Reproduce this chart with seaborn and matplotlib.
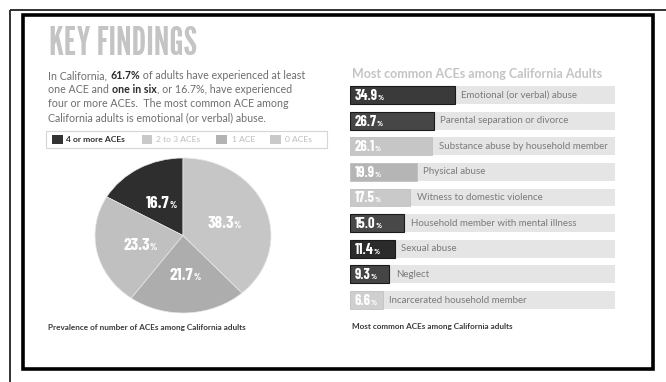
import numpy as np
import pandas as pd
import matplotlib
matplotlib.use("Agg")
import matplotlib.pyplot as plt
import seaborn as sns
from matplotlib import font_manager as fm
from matplotlib.patches import Rectangle

# ---------------- data ----------------
pie_labels = ["4 or more ACEs", "2 to 3 ACEs", "1 ACE", "0 ACEs"]
pie_values = [16.7, 23.3, 21.7, 38.3]
pie_colors = ["#2e2e2e", "#c0c0c0", "#adadad", "#c6c6c6"]
legend_colors = ["#333333", "#c9c9c9", "#b3b3b3", "#c9c9c9"]

ace_types = [
    "Emotional (or verbal) abuse",
    "Parental separation or divorce",
    "Substance abuse by household member",
    "Physical abuse",
    "Witness to domestic violence",
    "Household member with mental illness",
    "Sexual abuse",
    "Neglect",
    "Incarcerated household member",
]
ace_values = [34.9, 26.7, 26.1, 19.9, 17.5, 15.0, 11.4, 9.3, 6.6]
bar_colors = ["#3a3a3a", "#464646", "#c6c6c6", "#b5b5b5", "#c9c9c9",
              "#484848", "#2b2b2b", "#454545", "#cfcfcf"]
bar_dark = [True, True, False, False, False, True, True, True, False]

title_text = "KEY FINDINGS"
para_lines = [
    [("In California, ", "normal"), ("61.7%", "bold"), (" of adults have experienced at least", "normal")],
    [("one ACE and ", "normal"), ("one in six", "bold"), (", or 16.7%, have experienced", "normal")],
    [("four or more ACEs.  The most common ACE among", "normal")],
    [("California adults is emotional (or verbal) abuse.", "normal")],
]
bar_title = "Most common ACEs among California Adults"
pie_caption = "Prevalence of number of ACEs among California adults"
bar_caption = "Most common ACEs among California adults"

# ---------------- style ----------------
sns.set_theme(style="white")
names = {f.name for f in fm.fontManager.ttflist}


def pick(opts):
    for o in opts:
        if o in names:
            return o
    return "DejaVu Sans"


HEAD = pick(["League Gothic", "Oswald", "Bebas Neue", "Barlow Condensed"])
NUM = pick(["Barlow Condensed", "Asap Condensed", "Oswald"])
BODY = pick(["Lato", "Open Sans"])
plt.rcParams["font.family"] = [BODY, "DejaVu Sans"]

W, H = 666, 382
fig = plt.figure(figsize=(W / 100, H / 100), dpi=100)
fig.patch.set_facecolor("white")

ov = fig.add_axes([0, 0, 1, 1])
ov.set_xlim(0, W)
ov.set_ylim(H, 0)
ov.axis("off")
ov.set_zorder(10)
ov.patch.set_visible(False)

# frames
ov.plot([10, 10], [10, H], color="#222222", lw=1.3, solid_capstyle="butt")
ov.plot([10, W], [10, 10], color="#222222", lw=1.3, solid_capstyle="butt")
ov.add_patch(Rectangle((22.5, 15), 630, 353.5, fill=False, lw=2.6, ec="black"))

# ---------------- pie ----------------
pax = fig.add_axes([95 / W, 1 - 313 / H, 176 / W, 155 / H])
wedges, _ = pax.pie(pie_values, colors=pie_colors, startangle=90, counterclock=True,
                    radius=1, wedgeprops=dict(edgecolor="#e8e8e8", linewidth=0.5))
pax.set_aspect("auto")
pax.set_xlim(-1, 1)
pax.set_ylim(-1, 1)

# ---------------- bars ----------------
bax = fig.add_axes([350 / W, 1 - 312.8 / H, 265 / W, 230.6 / H])
df = pd.DataFrame({"ace": ace_types, "pct": ace_values})
for i in range(len(ace_types)):
    bax.axhspan(i - 0.35, i + 0.35, color="#e5e5e5", lw=0, zorder=0)
sns.barplot(data=df, x="pct", y="ace", hue="ace", palette=bar_colors, width=0.7,
            legend=False, ax=bax, orient="h", saturation=1, zorder=2)
OFF = 6.1
bars = [p for c in bax.containers for p in c]
for p, dark in zip(bars, bar_dark):
    p.set_x(-OFF)
    p.set_width(p.get_width() + OFF)
    if dark:
        p.set_edgecolor("#1a1a1a")
        p.set_linewidth(0.8)
    else:
        p.set_edgecolor("#bdbdbd")
        p.set_linewidth(0.5)
bax.set_xlim(-OFF, 97.4)
bax.set_ylim(len(ace_types) - 0.5, -0.5)
bax.axis("off")

fig.canvas.draw()
R = fig.canvas.get_renderer()


def to_ov(ax, x, y):
    dx, dy = ax.transData.transform((x, y))
    return dx, H - dy


def width_of(t):
    return t.get_window_extent(renderer=R).width


def rich(x, y, parts, size, family, colors, ha="left"):
    """parts: list of (text, weight, size_factor)"""
    made = []
    for s, wgt, fs in parts:
        t = ov.text(0, y, s, fontsize=size * fs, fontweight=wgt, family=family,
                    color=colors.get(wgt, "#777777"), va="baseline")
        made.append(t)
    ws = [width_of(t) for t in made]
    total = sum(ws)
    cx = x - total / 2 if ha == "center" else x
    for t, w in zip(made, ws):
        t.set_x(cx)
        cx += w
    return made


def fitted_size(s, target, weight="normal", family=None, base=8.0):
    t = ov.text(0, 0, s, fontsize=base, fontweight=weight, family=family or BODY)
    w = width_of(t)
    t.remove()
    return base * target / w


# title
ts = fitted_size(title_text, 148, "bold", HEAD, 24)
ov.text(49, 55, title_text, family=HEAD, fontweight="bold", fontsize=ts,
        color="#c4c4c4", va="baseline")

# paragraph
ps = fitted_size("In California, 61.7% of adults have experienced at least", 258)
for k, line in enumerate(para_lines):
    rich(48.5, 79 + 14 * k, [(s, w, 1.0) for s, w in line], ps, BODY,
         {"normal": "#6e6e6e", "bold": "#2a2a2a"})

# legend box
ov.add_patch(Rectangle((45.5, 131), 281.5, 16.5, fill=False, lw=0.8, ec="#d6d6d6"))
sq_x = [52, 141.5, 216, 270]
tx_x = [66.5, 156.5, 231.5, 285]
ls = fitted_size("4 or more ACEs", 59, "bold")
for lab, col, sx, tx, k in zip(pie_labels, legend_colors, sq_x, tx_x, range(4)):
    ov.add_patch(Rectangle((sx, 135), 10.5, 9, fc=col, ec="none"))
    ov.text(tx, 142.3, lab, fontsize=ls, fontweight="bold" if k == 0 else "normal",
            color="#2e2e2e" if k == 0 else "#bdbdbd", va="baseline")

# pie labels
for w, v in zip(wedges, pie_values):
    th = np.deg2rad((w.theta1 + w.theta2) / 2)
    px, py = to_ov(pax, 0.5 * np.cos(th), 0.5 * np.sin(th))
    rich(px, py + 6, [(f"{v:.1f}", "bold", 1.0), ("%", "bold", 0.55)], 12.5, NUM,
         {"bold": "white"}, ha="center")

# captions
cs = fitted_size(pie_caption, 199, "bold")
ov.text(48.5, 330, pie_caption, fontsize=cs, fontweight="bold", color="#3a3a3a",
        va="baseline")
cs2 = fitted_size(bar_caption, 162, "bold")
ov.text(352, 329.5, bar_caption, fontsize=cs2, fontweight="bold", color="#3a3a3a",
        va="baseline")

# bar title
bs = fitted_size(bar_title, 252, "bold")
ov.text(352, 77.5, bar_title, fontsize=bs, fontweight="bold", color="#c4c4c4",
        va="baseline")

# bar labels
ns = fitted_size(ace_types[0], 117)
for i, (name, v) in enumerate(zip(ace_types, ace_values)):
    x0, yc = to_ov(bax, -OFF, i)
    x1, _ = to_ov(bax, v, i)
    rich(x0 + 4.5, yc + 5, [(f"{v:.1f}", "bold", 1.0), ("%", "bold", 0.55)], 10.5,
         NUM, {"bold": "white"})
    ov.text(x1 + 6.5, yc + 2.6, name, fontsize=ns, color="#7a7a7a", va="baseline")

fig.savefig("out.png", dpi=100, facecolor="white")
